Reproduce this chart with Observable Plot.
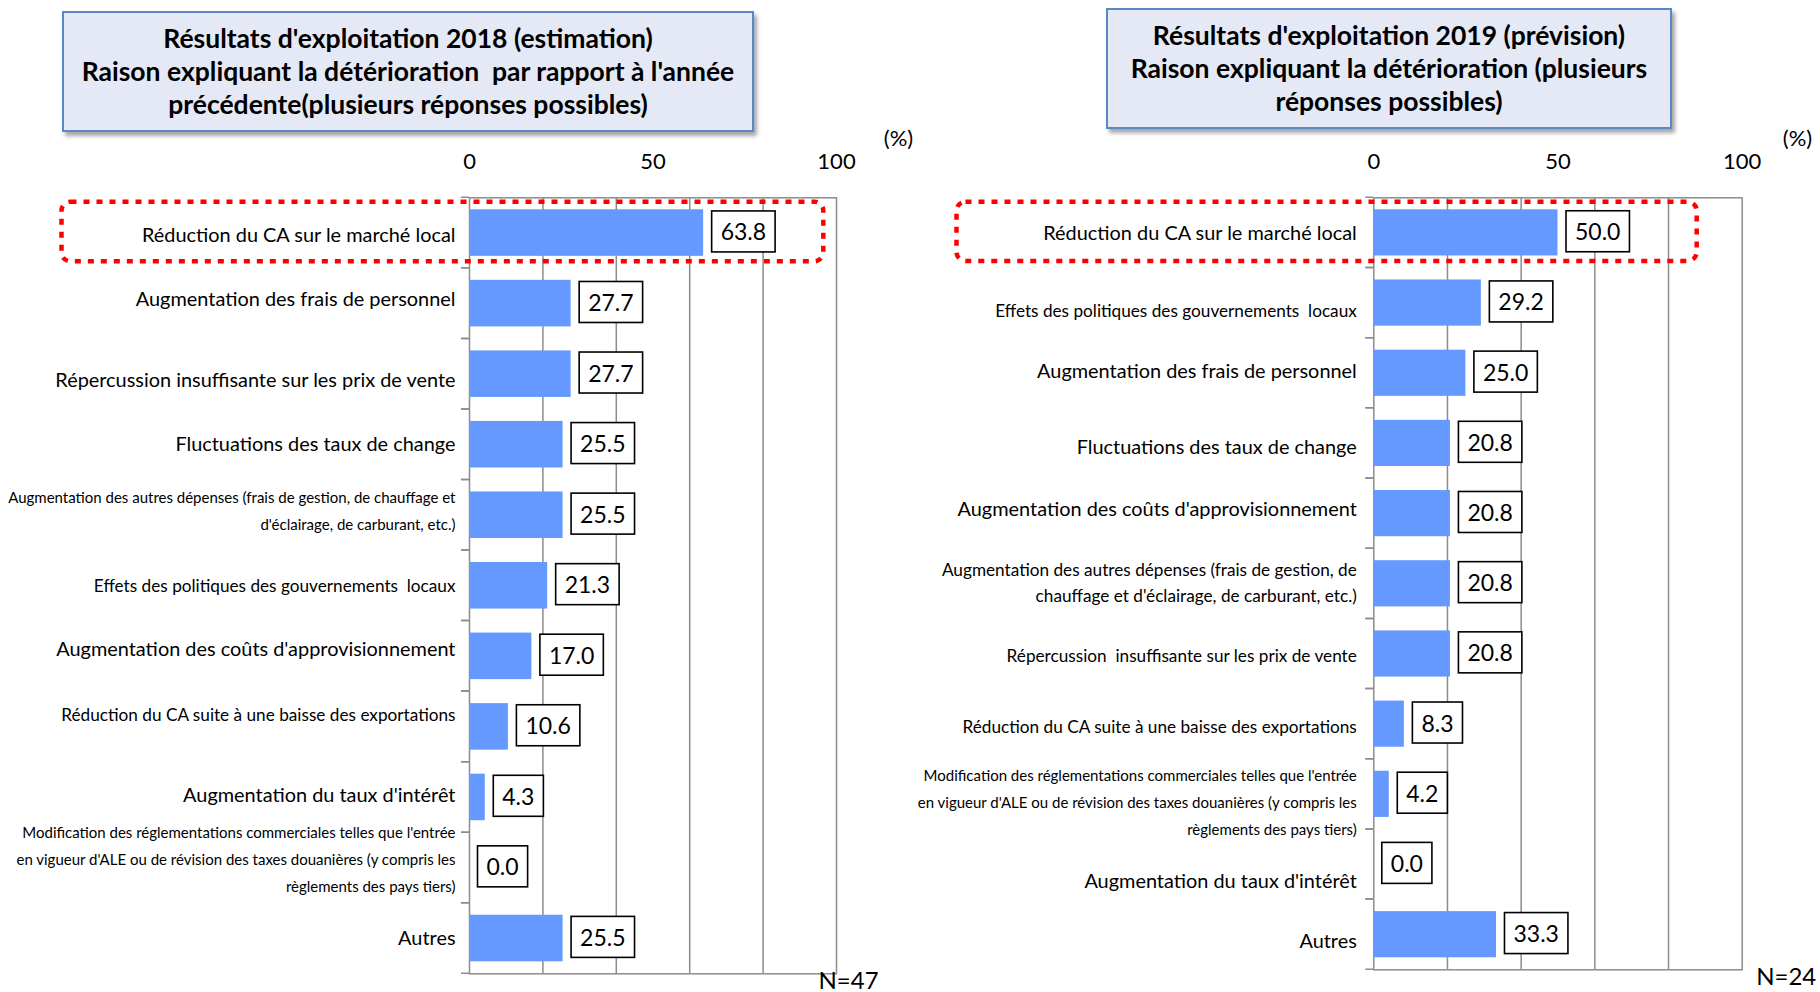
<!DOCTYPE html>
<html>
<head>
<meta charset="utf-8">
<script src="https://cdn.jsdelivr.net/npm/d3@7"></script>
<script src="https://cdn.jsdelivr.net/npm/@observablehq/plot@0.6"></script>
<style>
  html, body { margin: 0; padding: 0; background: #fff; }
  body { width: 1820px; height: 992px; position: relative; overflow: hidden; font-family: Lato, "Open Sans", sans-serif; }
  .title {
    position: absolute; z-index: 2; box-sizing: border-box;
    background: #e4e9f5; border: 2px solid #5a87c6;
    box-shadow: 3px 4px 4px rgba(0,0,0,0.35);
    display: flex; align-items: center; justify-content: center; text-align: center;
    font-family: Lato, sans-serif; font-weight: bold; font-size: 26.5px; line-height: 33px; color: #000;
    white-space: pre;
  }
  .panel { position: absolute; top: 120px; z-index: 1; }
  .panel svg text { white-space: pre; }
</style>
</head>
<body>
<div class="title" id="title2018" style="left:62px; top:11px; width:692px; height:121px;"></div>
<div class="title" id="title2019" style="left:1106px; top:8px; width:566px; height:121px;"></div>
<div class="panel" id="panel2018" style="left:0px;"></div>
<div class="panel" id="panel2019" style="left:910px;"></div>
<script>
// ---------------- data ----------------
const categories2018 = [
  "Réduction du CA sur le marché local",
  "Augmentation des frais de personnel",
  "Répercussion insuffisante sur les prix de vente",
  "Fluctuations des taux de change",
  "Augmentation des autres dépenses (frais de gestion, de chauffage et\nd'éclairage, de carburant, etc.)",
  "Effets des politiques des gouvernements  locaux",
  "Augmentation des coûts d'approvisionnement",
  "Réduction du CA suite à une baisse des exportations",
  "Augmentation du taux d'intérêt",
  "Modification des réglementations commerciales telles que l'entrée\nen vigueur d'ALE ou de révision des taxes douanières (y compris les\nrèglements des pays tiers)",
  "Autres"
];
const values2018 = [63.8, 27.7, 27.7, 25.5, 25.5, 21.3, 17.0, 10.6, 4.3, 0.0, 25.5];

const categories2019 = [
  "Réduction du CA sur le marché local",
  "Effets des politiques des gouvernements  locaux",
  "Augmentation des frais de personnel",
  "Fluctuations des taux de change",
  "Augmentation des coûts d'approvisionnement",
  "Augmentation des autres dépenses (frais de gestion, de\nchauffage et d'éclairage, de carburant, etc.)",
  "Répercussion  insuffisante sur les prix de vente",
  "Réduction du CA suite à une baisse des exportations",
  "Modification des réglementations commerciales telles que l'entrée\nen vigueur d'ALE ou de révision des taxes douanières (y compris les\nrèglements des pays tiers)",
  "Augmentation du taux d'intérêt",
  "Autres"
];
const values2019 = [50.0, 29.2, 25.0, 20.8, 20.8, 20.8, 20.8, 8.3, 4.2, 0.0, 33.3];

const axisTickLabels = [0, 50, 100];
const gridValues = [20, 40, 60, 80];
const unitLabel = "(%)";
const sampleSize2018 = "N=47";
const sampleSize2019 = "N=24";
const highlightedCategory = "Réduction du CA sur le marché local";
const title2018 = ["Résultats d'exploitation 2018 (estimation)", "Raison expliquant la détérioration  par rapport à l'année", "précédente(plusieurs réponses possibles)"];
const title2019 = ["Résultats d'exploitation 2019 (prévision)", "Raison expliquant la détérioration (plusieurs", "réponses possibles)"];

// ---------------- styles (label font class and vertical nudge per row) ----------------
const labelClass2018 = ["L","L","L","L","S","M","L","M","L","S","L"];
const labelClass2019 = ["L","M","L","L","L","M","M","M","S","L","L"];
const labelNudge2018 = [3, -3.5, 6, 0, -7, -2, -7, -14, -2, -11.5, 0];
const labelNudge2019 = [1, 6, -2, 4.5, -3.5, -3, 0, 1, 5, 17, 7];
const LABEL_FONTS = { L: {size: 19.9, lh: 1}, M: {size: 17.2, lh: 1.5}, S: {size: 15, lh: 1.8} };
const BAR_COLOR = "#6699ff";
const GRID_COLOR = "#8c8c8c";

document.getElementById("title2018").textContent = title2018.join("\n");
document.getElementById("title2019").textContent = title2019.join("\n");

function makePanel(cfg) {
  const rows = cfg.cats.map((c, i) => ({cat: c, value: cfg.vals[i], cls: cfg.cls[i], nudge: cfg.nudge[i]}));
  const step = (cfg.height - cfg.mT - cfg.mB) / cfg.cats.length;
  const labelMarks = rows.map(r => {
    const f = LABEL_FONTS[r.cls];
    return Plot.text([r], {
      y: "cat", text: "cat", frameAnchor: "left", textAnchor: "end",
      dx: cfg.labelDx, dy: r.nudge, fontSize: f.size, lineHeight: f.lh, fill: "#000"
    });
  });
  return Plot.plot({
    width: cfg.width, height: cfg.height,
    marginLeft: cfg.mL, marginRight: cfg.mR, marginTop: cfg.mT, marginBottom: cfg.mB,
    style: {fontFamily: "Lato, sans-serif", background: "transparent", overflow: "visible", color: "#000"},
    x: {domain: [0, 100], axis: null},
    y: {domain: cfg.cats, padding: 0, round: false, axis: null},
    marks: [
      Plot.ruleX(gridValues, {stroke: GRID_COLOR, strokeWidth: 1.5}),
      Plot.frame({stroke: GRID_COLOR, strokeWidth: 1.5}),
      // boundary ticks on the category axis
      Plot.barX(rows, {y: "cat", x1: 0, x2: 0, insetLeft: -8, fill: "none", stroke: GRID_COLOR, strokeWidth: 1.5,
        strokeDasharray: `8 ${step} 8 ${step + 20}`}),
      Plot.barX(rows, {y: "cat", x1: 0, x2: "value", fill: BAR_COLOR, insetTop: 12, insetBottom: 12}),
      Plot.barX([highlightedCategory], {y: d => d, x1: 0, x2: 100,
        insetLeft: cfg.hlLeft, insetRight: cfg.hlRight, insetTop: 4.4, insetBottom: 6.5,
        fill: "none", stroke: "#ff0000", strokeWidth: 4.5, strokeDasharray: "6 7", rx: 9}),
      ...labelMarks,
      Plot.text(rows, {y: "cat", x: "value", text: d => d.value.toFixed(1), textAnchor: "start", dx: 17, fontSize: 23, fill: "#000"}),
      Plot.axisX({anchor: "top", ticks: axisTickLabels, tickSize: 0, tickPadding: 28.5, fontSize: 22, label: null, tickFormat: d => String(d)}),
      Plot.text([unitLabel], {text: d => d, frameAnchor: "top-right", dx: cfg.pctDx, dy: -67, fontSize: 22, textAnchor: "middle", fill: "#000"}),
      Plot.text([cfg.nText], {text: d => d, frameAnchor: "bottom-right", dx: cfg.nDx, dy: cfg.nDy, fontSize: 24, textAnchor: "start", fill: "#000"})
    ]
  });
}

function addValueBoxes(svg) {
  const texts = Array.from(svg.querySelectorAll("text")).filter(t => /^\d+\.\d$/.test(t.textContent.trim()));
  texts.forEach(t => {
    const b = t.getBBox();
    const r = document.createElementNS("http://www.w3.org/2000/svg", "rect");
    const cy = b.y + b.height / 2;
    r.setAttribute("x", b.x - 9);
    r.setAttribute("y", cy - 20.5);
    r.setAttribute("width", b.width + 18);
    r.setAttribute("height", 41);
    r.setAttribute("fill", "#fff");
    r.setAttribute("stroke", "#000");
    r.setAttribute("stroke-width", 1.6);
    const tr = t.getAttribute("transform");
    if (tr) r.setAttribute("transform", tr);
    t.parentNode.insertBefore(r, t);
  });
}

const p1 = makePanel({
  cats: categories2018, vals: values2018, cls: labelClass2018, nudge: labelNudge2018,
  width: 910, height: 872, mL: 469, mR: 74, mT: 77.3, mB: 18.7,
  labelDx: -14, hlLeft: -407.5, hlRight: 12.7, pctDx: 62, nText: sampleSize2018, nDx: -18, nDy: 15
});
const p2 = makePanel({
  cats: categories2019, vals: values2019, cls: labelClass2019, nudge: labelNudge2019,
  width: 910, height: 872, mL: 463.3, mR: 78.3, mT: 77.3, mB: 22.7,
  labelDx: -17, hlLeft: -416.8, hlRight: 45, pctDx: 55.3, nText: sampleSize2019, nDx: 14, nDy: 15
});
document.getElementById("panel2018").appendChild(p1);
document.getElementById("panel2019").appendChild(p2);
addValueBoxes(p1);
addValueBoxes(p2);
</script>
</body>
</html>
